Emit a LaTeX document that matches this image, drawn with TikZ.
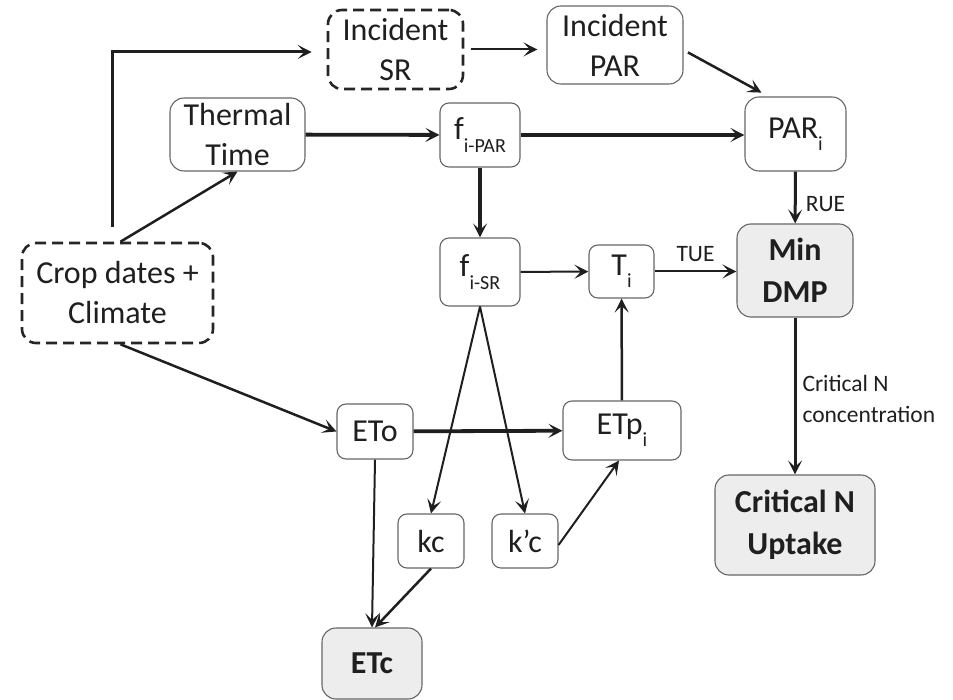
\documentclass[tikz,border=0pt]{standalone}
\usepackage{fontspec}
\setmainfont{Carlito}
\usetikzlibrary{arrows.meta,calc}
\newcommand\lowsub[1]{\raisebox{-0.8ex}{\fontsize{20}{20}\selectfont #1}}
\begin{document}
\begin{tikzpicture}[x=1pt,y=-1pt,
 box/.style={draw=black!60,line width=1.1pt,rounded corners=9pt,align=center,inner sep=0pt,font=\fontsize{32}{40}\selectfont,text=black!88},
 dbox/.style={box,draw=black!85,line width=2.6pt,dash pattern=on 11pt off 6pt,rounded corners=14pt},
 gbox/.style={box,fill=black!7,rounded corners=14pt,font=\fontsize{32}{42}\selectfont\bfseries},
 arr/.style={-{Stealth[length=14pt,width=14pt,inset=6.5pt]},line width=2.2pt,draw=black!88},
 thk/.style={arr,line width=3.8pt},
 med/.style={arr,line width=3pt},
 lab/.style={font=\fontsize{23.5}{31}\selectfont,text=black!88,align=left,inner sep=0pt}]
\useasboundingbox (0,0) rectangle (953,700);
% nodes
\node[dbox,minimum width=135pt,minimum height=79pt] (isr) at (395.5,49.5) {Incident\\SR};
\node[box,rounded corners=14pt,minimum width=136pt,minimum height=78pt] (ipar) at (615,45) {Incident\\PAR};
\node[box,rounded corners=14pt,minimum width=135pt,minimum height=73pt] (tt) at (237.5,134.5) {Thermal\\Time};
\node[box,minimum width=80pt,minimum height=64pt] (fpar) at (480,135) {f\lowsub{i-PAR}};
\node[box,rounded corners=14pt,minimum width=101pt,minimum height=74pt] (pari) at (795.5,134) {PAR\lowsub{i}};
\node[dbox,minimum width=191pt,minimum height=100pt] (crop) at (117.5,293) {Crop dates +\\Climate};
\node[box,minimum width=80pt,minimum height=68pt] (fsr) at (480,272) {f\lowsub{i-SR}};
\node[box,minimum width=65pt,minimum height=53pt] (ti) at (621.5,271.5) {T\lowsub{i}};
\node[gbox,minimum width=116pt,minimum height=93pt] (dmp) at (795,270.5) {Min\\DMP};
\node[box,minimum width=76pt,minimum height=55pt] (eto) at (375,431.5) {ETo};
\node[box,minimum width=118pt,minimum height=59pt] (etp) at (622,430.5) {ETp\lowsub{i}};
\node[box,minimum width=66pt,minimum height=54pt] (kc) at (431,541) {kc};
\node[box,minimum width=66pt,minimum height=54pt] (kpc) at (525,541) {k’c};
\node[gbox,minimum width=160pt,minimum height=100pt] (cnu) at (795,525) {Critical N\\Uptake};
\node[gbox,minimum width=100pt,minimum height=71pt] (etc) at (372,663.5) {ETc};
% connectors
\draw[med,shorten <=15pt,shorten >=15pt] ([xshift=-5pt]crop.north) |- ([yshift=-2.5pt]isr.west);
\draw[arr,line width=2.5pt] ([xshift=3pt]crop.north) -- (tt.south);
\draw[thk] (tt) -- (fpar);
\draw[arr,line width=2pt,shorten <=7pt,shorten >=9pt] (isr.east) -- (isr.east -| ipar.west);
\draw[arr,line width=2.5pt,shorten <=5pt,shorten >=8pt] ([yshift=-5pt]ipar.east) -- ([xshift=-27pt]pari.north);
\draw[thk] (fpar) -- (fpar -| pari.west);
\draw[thk] (fpar) -- (fsr);
\draw[med] (pari) -- node[lab,right=9pt,pos=0.62]{RUE} (dmp);
\draw[arr,line width=2pt] (fsr) -- (ti);
\draw[arr,line width=2pt] (ti.east) -- node[lab,above=9pt]{TUE} (ti.east -| dmp.west);
\draw[arr,line width=2.5pt] (etp) -- (ti);
\draw[arr,line width=2.5pt] ([xshift=3pt]crop.south) -- (eto.west);
\draw[thk] (eto) -- (etp);
\draw[arr,line width=2pt] (fsr.south) -- (kc.north);
\draw[arr,line width=2pt] (fsr.south) -- (kpc.north);
\draw[arr,line width=2pt] ([yshift=-4pt]kpc.east) -- ([xshift=-3pt]etp.south);
\draw[arr,line width=2pt] (eto.south) -- (etc.north);
\draw[arr,line width=2.5pt] (kc.south) -- ([xshift=3pt]etc.north);
\draw[med] (dmp) -- node[lab,right=6pt,pos=0.52]{Critical N\\concentration} (cnu);
\end{tikzpicture}
\end{document}
